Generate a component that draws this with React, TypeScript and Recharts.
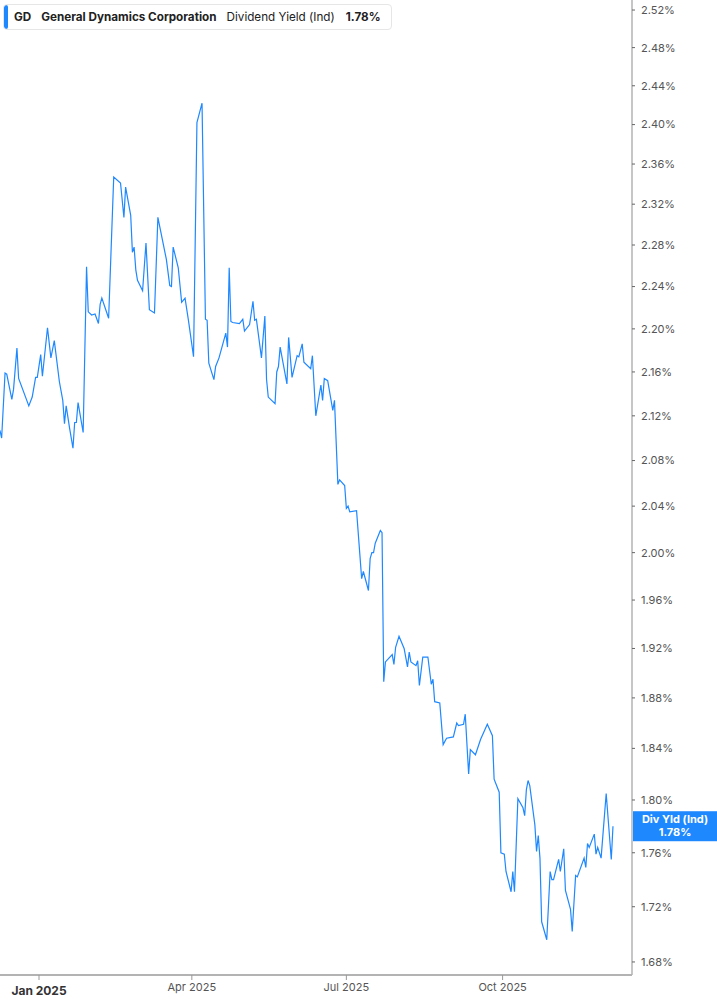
import React from 'react';
import {
  LineChart,
  Line,
  XAxis,
  YAxis,
  ReferenceLine,
} from 'recharts';

// dividend yield readings (date, %)
const dates = [
  '2024-12-09', '2024-12-10', '2024-12-12', '2024-12-13', '2024-12-16', '2024-12-17', '2024-12-19', '2024-12-20',
  '2024-12-26', '2024-12-28', '2024-12-30', '2024-12-31', '2025-01-02', '2025-01-03', '2025-01-06', '2025-01-08',
  '2025-01-10', '2025-01-13', '2025-01-15', '2025-01-16', '2025-01-17', '2025-01-19', '2025-01-21', '2025-01-22',
  '2025-01-23', '2025-01-24', '2025-01-27', '2025-01-29', '2025-01-30', '2025-02-01', '2025-02-03', '2025-02-05',
  '2025-02-06', '2025-02-07', '2025-02-11', '2025-02-14', '2025-02-18', '2025-02-20', '2025-02-21', '2025-02-24',
  '2025-02-25', '2025-02-26', '2025-02-27', '2025-02-28', '2025-03-03', '2025-03-05', '2025-03-07', '2025-03-10',
  '2025-03-12', '2025-03-17', '2025-03-19', '2025-03-20', '2025-03-21', '2025-03-24', '2025-03-26', '2025-03-28',
  '2025-03-30', '2025-04-02', '2025-04-04', '2025-04-07', '2025-04-09', '2025-04-10', '2025-04-11', '2025-04-14',
  '2025-04-15', '2025-04-17', '2025-04-21', '2025-04-22', '2025-04-23', '2025-04-24', '2025-04-25', '2025-04-29',
  '2025-05-01', '2025-05-02', '2025-05-05', '2025-05-07', '2025-05-08', '2025-05-09', '2025-05-12', '2025-05-14',
  '2025-05-15', '2025-05-16', '2025-05-20', '2025-05-21', '2025-05-22', '2025-05-23', '2025-05-27', '2025-05-28',
  '2025-05-30', '2025-06-02', '2025-06-03', '2025-06-05', '2025-06-06', '2025-06-10', '2025-06-11', '2025-06-13',
  '2025-06-16', '2025-06-17', '2025-06-18', '2025-06-20', '2025-06-23', '2025-06-24', '2025-06-26', '2025-06-27',
  '2025-06-30', '2025-07-01', '2025-07-02', '2025-07-03', '2025-07-07', '2025-07-10', '2025-07-11', '2025-07-14',
  '2025-07-15', '2025-07-16', '2025-07-17', '2025-07-18', '2025-07-21', '2025-07-22', '2025-07-23', '2025-07-24',
  '2025-07-28', '2025-07-29', '2025-07-30', '2025-08-01', '2025-08-04', '2025-08-06', '2025-08-07', '2025-08-08',
  '2025-08-11', '2025-08-12', '2025-08-13', '2025-08-15', '2025-08-18', '2025-08-20', '2025-08-21', '2025-08-22',
  '2025-08-25', '2025-08-27', '2025-08-29', '2025-09-02', '2025-09-04', '2025-09-05', '2025-09-08', '2025-09-09',
  '2025-09-11', '2025-09-12', '2025-09-15', '2025-09-18', '2025-09-22', '2025-09-25', '2025-09-26', '2025-09-29',
  '2025-09-30', '2025-10-02', '2025-10-03', '2025-10-06', '2025-10-07', '2025-10-08', '2025-10-10', '2025-10-13',
  '2025-10-14', '2025-10-15', '2025-10-16', '2025-10-17', '2025-10-20', '2025-10-21', '2025-10-22', '2025-10-23',
  '2025-10-24', '2025-10-27', '2025-10-29', '2025-10-30', '2025-10-31', '2025-11-03', '2025-11-04', '2025-11-06',
  '2025-11-07', '2025-11-10', '2025-11-11', '2025-11-13', '2025-11-14', '2025-11-18', '2025-11-19', '2025-11-20',
  '2025-11-21', '2025-11-24', '2025-11-25', '2025-11-26', '2025-11-28', '2025-12-01', '2025-12-04', '2025-12-05',
];

const yields = [
  2.107, 2.100, 2.159, 2.158, 2.135, 2.144, 2.182, 2.154,
  2.129, 2.137, 2.155, 2.155, 2.176, 2.156, 2.201, 2.173,
  2.189, 2.151, 2.134, 2.113, 2.129, 2.109, 2.091, 2.114,
  2.114, 2.132, 2.105, 2.259, 2.216, 2.213, 2.214, 2.205,
  2.223, 2.229, 2.210, 2.347, 2.341, 2.307, 2.337, 2.309,
  2.273, 2.278, 2.256, 2.246, 2.236, 2.282, 2.218, 2.215,
  2.307, 2.266, 2.241, 2.240, 2.278, 2.258, 2.225, 2.229,
  2.208, 2.174, 2.402, 2.422, 2.209, 2.208, 2.168, 2.153,
  2.165, 2.173, 2.196, 2.183, 2.258, 2.207, 2.206, 2.205,
  2.209, 2.198, 2.204, 2.226, 2.208, 2.209, 2.173, 2.212,
  2.153, 2.137, 2.131, 2.160, 2.165, 2.183, 2.149, 2.192,
  2.155, 2.175, 2.174, 2.186, 2.169, 2.163, 2.175, 2.120,
  2.148, 2.134, 2.154, 2.152, 2.125, 2.134, 2.059, 2.063,
  2.058, 2.038, 2.040, 2.035, 2.036, 1.978, 1.984, 1.968,
  1.995, 2.000, 2.000, 2.008, 2.019, 2.017, 1.893, 1.909,
  1.915, 1.907, 1.921, 1.930, 1.920, 1.905, 1.917, 1.909,
  1.906, 1.910, 1.890, 1.913, 1.913, 1.891, 1.895, 1.877,
  1.876, 1.843, 1.848, 1.849, 1.860, 1.858, 1.859, 1.867,
  1.820, 1.839, 1.835, 1.847, 1.859, 1.850, 1.816, 1.806,
  1.760, 1.759, 1.746, 1.731, 1.746, 1.731, 1.801, 1.794,
  1.788, 1.808, 1.815, 1.811, 1.781, 1.761, 1.773, 1.756,
  1.709, 1.696, 1.746, 1.740, 1.740, 1.755, 1.746, 1.763,
  1.732, 1.718, 1.702, 1.743, 1.742, 1.756, 1.749, 1.767,
  1.764, 1.774, 1.759, 1.764, 1.756, 1.805, 1.755, 1.780,
];

const yTicks = [
  1.68, 1.72, 1.76, 1.80, 1.84, 1.88, 1.92, 1.96, 2.00, 2.04, 2.08,
  2.12, 2.16, 2.20, 2.24, 2.28, 2.32, 2.36, 2.40, 2.44, 2.48, 2.52,
];

const xTickDates = ['2025-01-01', '2025-04-01', '2025-07-01', '2025-10-01'];
const xTickLabels = ['Jan 2025', 'Apr 2025', 'Jul 2025', 'Oct 2025'];

const lastValue = 1.78;

const DAY = 86400000;
const toTime = (d: string) => Date.parse(d + 'T00:00:00Z');
const JAN1 = toTime('2025-01-01');
const X_DOMAIN = [JAN1 - 22.97 * DAY, JAN1 + 349.2 * DAY];
const Y_DOMAIN = [1.6707, 2.5308];

const BLUE = '#1e88ff';
const FONT = 'Inter, "Noto Sans", sans-serif';

const data = dates.map((d, i) => ({ t: toTime(d), v: yields[i] }));
const xTicks = xTickDates.map(toTime);

const XTick = (props: any) => {
  const { x, y, payload } = props;
  const idx = xTicks.indexOf(payload.value);
  const isYear = idx === 0;
  return (
    <text
      x={x}
      y={y + (isYear ? 13 : 9)}
      textAnchor="middle"
      fontFamily={FONT}
      fontSize={isYear ? 12 : 11}
      fontWeight={isYear ? 700 : 400}
      fill={isYear ? '#333' : '#555'}
    >
      {xTickLabels[idx]}
    </text>
  );
};

const LastLabel = (props: any) => {
  const { viewBox } = props;
  const x = viewBox.x + viewBox.width + 1;
  const cy = viewBox.y;
  return (
    <g>
      <rect x={x} y={cy - 15} width={84} height={30} fill={BLUE} />
      <text x={x + 42} y={cy - 3} textAnchor="middle" fill="#fff" fontFamily={FONT} fontSize={11} fontWeight={700}>
        Div Yld (Ind)
      </text>
      <text x={x + 42} y={cy + 10} textAnchor="middle" fill="#fff" fontFamily={FONT} fontSize={11} fontWeight={700}>
        {lastValue.toFixed(2)}%
      </text>
    </g>
  );
};

const Header = () => (
  <div
    style={{
      position: 'absolute',
      left: 3,
      top: 4,
      height: 26,
      width: 389,
      boxSizing: 'border-box',
      border: '1px solid #e6e6e6',
      borderRadius: 4,
      background: '#fff',
      display: 'flex',
      alignItems: 'center',
      fontFamily: FONT,
      fontSize: 11.7,
      color: '#222',
      whiteSpace: 'nowrap',
      overflow: 'hidden',
    }}
  >
    <div style={{ width: 4, height: 24, background: BLUE, borderRadius: 2, marginRight: 6 }} />
    <span style={{ fontWeight: 700 }}>GD</span>
    <span style={{ fontWeight: 700, marginLeft: 10 }}>General Dynamics Corporation</span>
    <span style={{ marginLeft: 10 }}>Dividend Yield (Ind)</span>
    <span style={{ fontWeight: 700, marginLeft: 11 }}>{lastValue.toFixed(2)}%</span>
  </div>
);

export default function App() {
  return (
    <div style={{ position: 'absolute', left: 0, top: 0, width: 717, height: 1005, background: '#fff' }}>
      <LineChart width={717} height={1005} data={data} margin={{ top: 0, right: 0, left: 0, bottom: 0 }}>
        <XAxis
          dataKey="t"
          type="number"
          domain={X_DOMAIN}
          ticks={xTicks}
          interval={0}
          allowDataOverflow
          height={30}
          tickSize={5}
          tickMargin={2}
          axisLine={{ stroke: '#b3b3b3', strokeWidth: 2 }}
          tickLine={{ stroke: '#999' }}
          tick={<XTick />}
        />
        <YAxis
          orientation="right"
          scale="log"
          domain={Y_DOMAIN}
          ticks={yTicks}
          interval={0}
          allowDataOverflow
          width={85}
          tickSize={3}
          tickMargin={6}
          axisLine={{ stroke: '#b3b3b3', strokeWidth: 1.5 }}
          tickLine={{ stroke: '#666' }}
          tick={{ fill: '#555', fontSize: 11, fontFamily: FONT }}
          tickFormatter={(v: number) => `${v.toFixed(2)}%`}
        />
        <ReferenceLine y={lastValue} stroke="none" label={<LastLabel />} />
        <Line
          type="linear"
          dataKey="v"
          stroke={BLUE}
          strokeWidth={1.2}
          dot={false}
          isAnimationActive={false}
        />
      </LineChart>
      <Header />
    </div>
  );
}
